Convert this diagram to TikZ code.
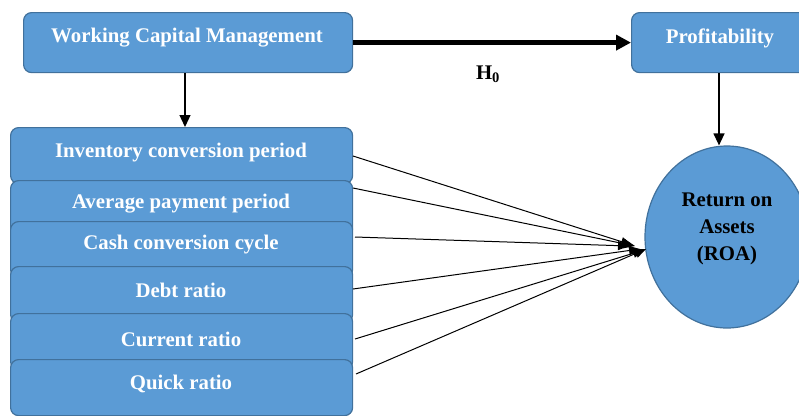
\documentclass[tikz,border=0pt]{standalone}
\usepackage{fontspec}
\setmainfont{Liberation Serif}
\usetikzlibrary{shapes.geometric,arrows.meta}
\definecolor{boxfill}{HTML}{5B9BD5}
\definecolor{boxline}{HTML}{41719C}
\tikzset{
  bluebox/.style={draw=boxline, line width=1.2pt, fill=boxfill, rounded corners=8pt, inner sep=0pt, anchor=north west},
  wlbl/.style={text=white, font=\fontsize{20.8}{24}\selectfont\bfseries, inner sep=0pt},
  blbl/.style={text=black, font=\fontsize{20.8}{27}\selectfont\bfseries, inner sep=0pt, align=center},
  thinarrow/.style={line width=1.3pt, -{Triangle[length=12pt,width=11pt]}},
  thickarrow/.style={line width=4.5pt, -{Triangle[length=15pt,width=15pt]}, shorten >=0pt},
  fanarrow/.style={line width=1pt, -{Triangle[length=11pt,width=9pt]}}
}
\begin{document}
\begin{tikzpicture}[x=1pt,y=-1pt]
\useasboundingbox (0,0) rectangle (799,415);
% top boxes
\node[bluebox, minimum width=329, minimum height=60] (wcm) at (23,12) {};
\node[wlbl] (wcmT) at (187,38) {Working Capital Management};
\node[bluebox, minimum width=178, minimum height=60] (prof) at (631,12) {};
\node[wlbl] (profT) at (720,38) {Profitability};
% ROA ellipse
\node[ellipse, draw=boxline, line width=1.2pt, fill=boxfill, minimum width=164, minimum height=182, inner sep=0pt] (roa) at (727,237) {};
\node[blbl] (roaT) at (727,229) {Return on\\Assets\\(ROA)};
% stack of boxes
\node[bluebox, minimum width=342, minimum height=56] (b1) at (10,127) {};
\node[bluebox, minimum width=342, minimum height=56] (b2) at (10,180) {};
\node[bluebox, minimum width=342, minimum height=56] (b3) at (10,221) {};
\node[bluebox, minimum width=342, minimum height=56] (b4) at (10,266) {};
\node[bluebox, minimum width=342, minimum height=56] (b5) at (10,313) {};
\node[bluebox, minimum width=342, minimum height=56] (b6) at (10,359) {};
\node[wlbl] (t1) at (181,153) {Inventory conversion period};
\node[wlbl] (t2) at (181,204) {Average payment period};
\node[wlbl] (t3) at (181,245) {Cash conversion cycle};
\node[wlbl] (t4) at (181,290) {Debt ratio};
\node[wlbl] (t5) at (181,339) {Current ratio};
\node[wlbl] (t6) at (181,384) {Quick ratio};
% H0 label
\node[text=black, font=\fontsize{20.8}{24}\selectfont\bfseries, inner sep=0pt] (h0) at (488,74) {H$_{\mathbf{0}}$};
% connectors
\draw[thickarrow] (wcm.east) -- (prof.west);
\draw[thinarrow] (wcm.south -| 185,0) -- (b1.north -| 185,0);
\draw[thinarrow] (prof.south -| 719,0) -- (roa.north -| 719,0);
\coordinate (s1) at (353,156);
\coordinate (s2) at (353,188);
\coordinate (s3) at (355,237);
\coordinate (s4) at (353,289);
\coordinate (s5) at (355,339);
\coordinate (s6) at (356,374);
\coordinate (e1) at (632,245);
\coordinate (e2) at (635,246);
\coordinate (e3) at (629,246);
\coordinate (e4) at (640,249);
\coordinate (e5) at (644,250);
\coordinate (e6) at (646,249);
\foreach \i in {1,...,6} \draw[fanarrow] (s\i) -- (e\i);
\end{tikzpicture}
\end{document}
